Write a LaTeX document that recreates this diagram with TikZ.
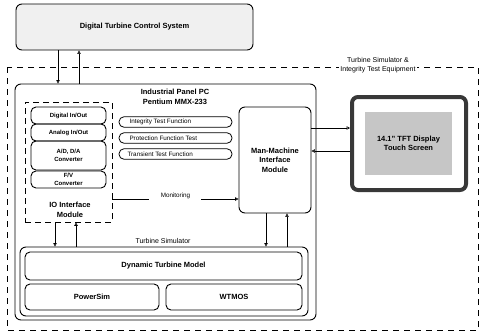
\documentclass[tikz,border=0pt]{standalone}
\usepackage{fontspec}
\setmainfont{Liberation Sans}
\usetikzlibrary{arrows.meta}
\begin{document}
\begin{tikzpicture}[x=1pt,y=-1pt,
  box/.style={draw, line width=0.9pt, rounded corners=6pt, inner sep=0pt},
  sbox/.style={draw, line width=0.9pt, rounded corners=5pt, inner sep=0pt},
  pill/.style={draw, line width=0.8pt, rounded corners=5pt, inner sep=0pt},
  hdr/.style={font=\fontsize{7.5}{9.5}\selectfont\bfseries, align=center},
  small/.style={font=\fontsize{6}{7.5}\selectfont\bfseries, align=center},
  func/.style={font=\fontsize{6.3}{7.5}\selectfont},
  lbl/.style={font=\fontsize{7}{9}\selectfont, align=center},
  arr/.style={line width=0.7pt, -{Triangle[open,length=3.5pt,width=3.5pt]}},
]
\useasboundingbox (0,0) rectangle (480,333);

% outer dashed region
\draw[line width=1pt, dash pattern=on 6pt off 5pt] (7,67) rectangle (478,330);
\node[lbl, fill=white, inner sep=1pt] (tslabel) at (378,65) {Turbine Simulator \&\\Integrity Test Equipment};

% digital turbine control system
\node[box, fill=gray!12, minimum width=237pt, minimum height=46pt, hdr] (dtcs) at (134.5,27) {Digital Turbine Control System};

% industrial panel PC
\node[box, minimum width=301pt, minimum height=236pt] (ipc) at (165.5,202) {};
\node[hdr] (ipclabel) at (175,97) {Industrial Panel PC\\Pentium MMX-233};

% IO interface module
\node[draw, line width=0.8pt, dash pattern=on 6pt off 4pt, minimum width=87pt, minimum height=120pt, inner sep=0pt] (io) at (68.5,162) {};
\node[sbox, minimum width=75pt, minimum height=17pt, small] (dio) at (68.5,115.5) {Digital In/Out};
\node[sbox, minimum width=75pt, minimum height=17pt, small] (aio) at (68.5,132.5) {Analog In/Out};
\node[sbox, minimum width=75pt, minimum height=29pt, small] (adc) at (68.5,155.5) {A/D, D/A\\Converter};
\node[sbox, minimum width=75pt, minimum height=17pt, small] (fv) at (68.5,179.5) {F/V\\Converter};
\node[hdr] (iolabel) at (70,210) {IO Interface\\Module};

% test functions
\node[pill, minimum width=113pt, minimum height=10.5pt] (itf) at (175.5,122) {};
\node[func, anchor=west] (itft) at (126,122) {Integrity Test Function};
\node[pill, minimum width=113pt, minimum height=10.5pt] (pft) at (175.5,138) {};
\node[func, anchor=west] (pftt) at (126,138) {Protection Function Test};
\node[pill, minimum width=113pt, minimum height=10.5pt] (ttf) at (175.5,154) {};
\node[func, anchor=west] (ttft) at (124,154) {Transient Test Function};

% man-machine interface
\node[box, minimum width=72pt, minimum height=106pt, hdr] (mmi) at (275,160) {Man-Machine\\Interface\\Module};

% display
\draw[line width=4pt, draw=black!78, rounded corners=6pt] (352,97) rectangle (466,190);
\node[fill=gray!45, minimum width=87pt, minimum height=63pt, inner sep=0pt, hdr] (disp) at (408.5,143.5) {14.1" TFT Display\\Touch Screen};
\coordinate (dispw) at (350,143.5);

% turbine simulator
\node[box, minimum width=288pt, minimum height=69pt] (ts) at (164,281.5) {};
\node[lbl] (tslbl) at (163,241) {Turbine Simulator};
\node[sbox, minimum width=277pt, minimum height=28pt, hdr] (dtm) at (163.5,266) {Dynamic Turbine Model};
\node[sbox, minimum width=134pt, minimum height=26pt, hdr] (psim) at (92,297) {PowerSim};
\node[sbox, minimum width=136pt, minimum height=26pt, hdr] (wtmos) at (234,297) {WTMOS};

% connectors
\coordinate (xa) at (58,0);
\coordinate (xb) at (79,0);
\coordinate (xc) at (55,0);
\coordinate (xd) at (76,0);
\coordinate (xe) at (266,0);
\coordinate (xf) at (287,0);
\coordinate (ya) at (0,128);
\coordinate (yb) at (0,151);
\coordinate (ym) at (0,199);

\draw[arr] (dtcs.south -| xa) -- (ipc.north -| xa);
\draw[arr] (ipc.north -| xb) -- (dtcs.south -| xb);
\draw[arr] (io.south -| xc) -- (ts.north -| xc);
\draw[arr] (ts.north -| xd) -- (io.south -| xd);
\draw[arr] (mmi.south -| xe) -- (ts.north -| xe);
\draw[arr] (ts.north -| xf) -- (mmi.south -| xf);
\draw[arr] (mmi.east |- ya) -- (dispw |- ya);
\draw[arr] (dispw |- yb) -- (mmi.east |- yb);
\draw[arr] (io.east |- ym) -- node[fill=white, func, minimum width=52pt, inner sep=1pt, yshift=3pt] {Monitoring} (mmi.west |- ym);
\end{tikzpicture}
\end{document}
